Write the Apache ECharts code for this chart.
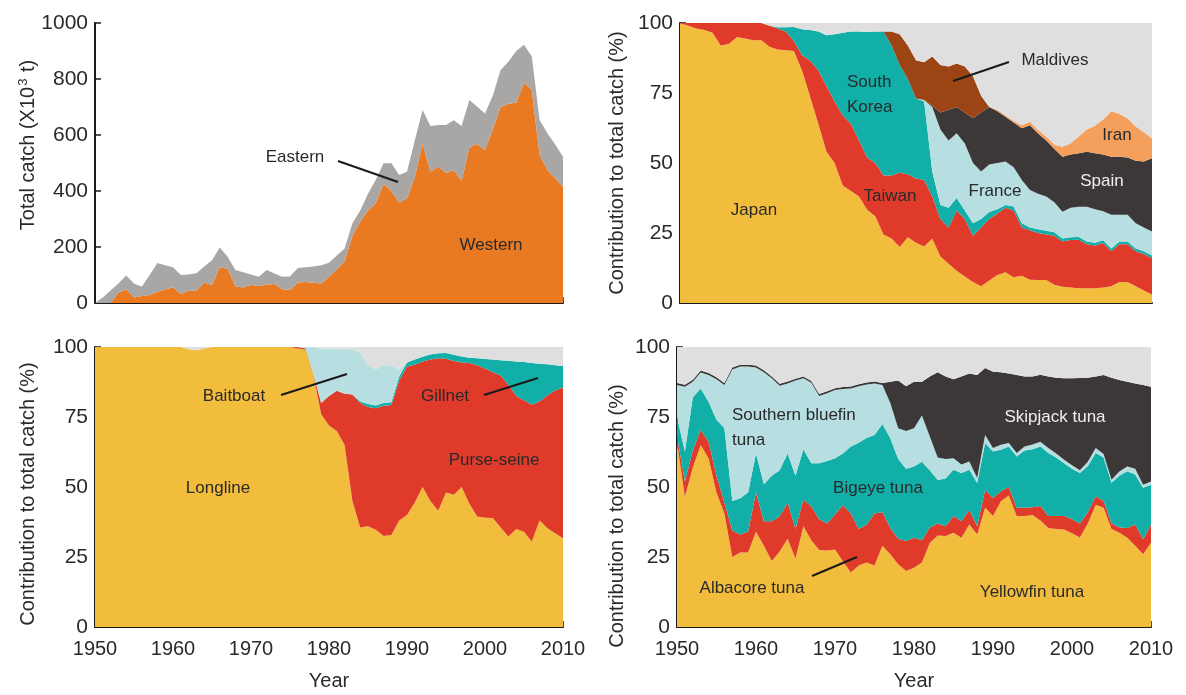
<!DOCTYPE html>
<html><head><meta charset="utf-8">
<script src="https://cdn.jsdelivr.net/npm/echarts@6/dist/echarts.min.js"></script>
<style>html,body{margin:0;padding:0;background:#fff}#c{width:1186px;height:695px}</style>
</head><body><div id="c"></div>
<script>
// ---------- categories / ticks ----------
const yearsFull = []; for (let y = 1950; y <= 2010; y++) yearsFull.push(String(y));
const yearsFlag = []; for (let y = 1950; y <= 2008; y++) yearsFlag.push(String(y));
const yearTicks = ['1950', '1960', '1970', '1980', '1990', '2000', '2010'];
const catchTicks = [0, 200, 400, 600, 800, 1000];
const pctTicks = [0, 25, 50, 75, 100];

// ---------- Panel A: total catch (x10^3 t), 1950-2010 ----------
const western = [0,0,0,37,49,20,25,29,40,48, 56,32,44,44,73,64,128,122,60,55, 64,62,65,68,49,47,73,75,72,70,
  94,120,148,240,290,330,356,425,400,358, 374,450,570,469,487,465,474,436,555,568,
  546,620,700,712,715,787,760,529,475,445, 415];
const eastern = [0,20,45,33,49,50,33,71,103,87, 72,68,58,62,57,89,70,43,58,55, 38,32,53,37,45,48,52,53,58,65,
  50,50,47,45,40,60,84,74,99,99, 95,130,119,163,149,171,179,196,170,133,
  131,120,132,150,185,135,120,125,131,121, 107];

// ---------- Panel B: share by flag (%), 1950-2008 ----------
const japan = [100,99,98,97.5,96.5,92,92.5,95,94.5,93.8, 93.8,91.5,90.5,90.3,90,83,73.6,64,54,50,
  42,40,38,33.3,31,24.5,23,20,23.5,21.5, 20.2,23,16.6,14,11.5,9.5,7.5,6,8,10,
  11,9.2,9.7,8.3,8.2,8.2,6.5,5.8,5.5,5.3, 5.3,5.3,5.5,6,7.5,7.5,6,4.5,3];
const taiwan = [0,1,2,2.5,3.5,8,7.5,5,5.5,6.2, 6.2,7.5,7.5,6.7,3.5,5.5,12.9,19,23.5,22,
  25,24,20,18.7,19,21,22.5,26.5,22.5,23, 23.7,15,13.4,13,21.5,20.5,16.5,21,22,22,
  23,23.8,17.3,17.7,16.8,16.3,17.5,16.2,17,17.3, 15.7,15.2,15.9,12.5,13.5,13.5,12.5,13,13];
const southKorea = [0,0,0,0,0,0,0,0,0,0, 0,0,0.5,1.5,5.1,9.3,11,14,18.1,24,
  29.5,33,39,44.8,47,51.5,46.5,38.5,34,28.5, 28.1,9,5,7,4.5,3,4.5,3,2.5,1.5,
  1,1.5,1.5,1,1.3,1.3,1.3,1,1,1, 1,1,1,1,1,1,1,1,1];
const france = [0,0,0,0,0,0,0,0,0,0, 0,0,0,0,0,0,0,0,0,0, 0,0,0,0,0,0,0,0,0,0,
  0.5,23,27,24,23.1,24,21.5,17,17,16.5, 15.5,14,15.4,13.4,12.7,12.2,10.7,9.6,10.5,10.8,
  12.4,12,10.4,12,9.5,9.5,9,8.5,8.5];
const spain = [0,0,0,0,0,0,0,0,0,0, 0,0,0,0,0,0,0,0,0,0, 0,0,0,0,0,0,0,0,0,0,
  0,0.5,6,11,9.4,11,16,21,20.5,18.5, 16,16,18.5,23.1,21.5,20,19,19.6,19,19.1,
  19.6,20,20.2,20.7,20.7,20.5,22.3,23.5,26.2];
const maldives = [0,0,0,0,0,0,0,0,0,0, 0,0,0,0,0,0,0,0,0,0, 0,0,0,0,0,0,5,11,12,13.7,
  13.5,17.5,17,15.5,15.5,16.5,15,6,0,0, 0,0,0,0,0,0,0,0,0,0, 0,0,0,0,0,0,0,0,0];
const iran = [0,0,0,0,0,0,0,0,0,0, 0,0,0,0,0,0,0,0,0,0, 0,0,0,0,0,0,0,0,0,0,
  0,0,0,0,0,0,0,0,0,0.5, 0.5,0.5,1.1,1.2,1.3,1.5,1.5,3.6,4,6,
  8,9.8,12.5,16.3,15.3,14,12.2,10.5,7.1];
const otherFlags = [0,0,0,0,0,0,0,0,0,0, 0,1,1.5,1.5,1.4,2.2,2.5,3,4.4,4,
  3.5,3,3,3.2,3,3,3,4,8,13.3, 14,12,15,15.5,14.5,15.5,19,26,30,31,
  33,35,36.5,35.3,38.2,40.5,43.5,44.2,43,40.5, 38,36.7,34.5,31.5,32.5,34,37,39,41.2];

// ---------- Panel C: share by gear (%), 1950-2010 ----------
const longline = [100,100,100,100,100,100,100,100,100,100, 100,100,99.2,98.8,99.5,100,100,100,100,100,
  100,100,100,100,100,100,99.5,99,90,76, 72,70,65,45,35.5,36,34.7,32.5,32.9,38,
  40,44.5,50,45,41.5,48,47.2,50,44,39.5, 39,38.9,35.5,32.3,35,34,30.5,38,35.3,33.5, 31.7];
const purseSeine = [0,0,0,0,0,0,0,0,0,0, 0,0,0,0,0,0,0,0,0,0, 0,0,0,0,0,0,0.5,0.5,0.3,4,
  10.5,14.4,18.3,38,44.5,42.6,43.4,46.5,46.4,50, 53,49.2,44.8,50.5,54.5,47.8,47.8,44.5,50.3,54,
  53.3,52.1,54.3,54.2,47.5,47,48.9,42.5,47.5,51, 53.8];
const gillnet = [0,0,0,0,0,0,0,0,0,0, 0,0,0,0,0,0,0,0,0,0, 0,0,0,0,0,0,0,0,0,0,
  0,0,0,0,0.5,1,1,1,1,1.5, 1.5,1.8,1.7,1.8,1.8,2.1,2.2,2.1,1.9,2.5,
  3.4,4.5,5.5,8.6,12.3,13.6,14.9,13.5,11,9, 7.7];
const baitboat = [0,0,0,0,0,0,0,0,0,0, 0,0,0,0,0,0,0,0,0,0, 0,0,0,0,0,0,0,0.5,9.7,19.5,
  17,15.1,16.2,16,17.5,13.9,12.9,13.5,13.2,2.5, 0,0,0,0,0,0,0,0,0,0, 0,0,0,0,0,0,0,0,0,0, 0];
const otherGears = [0,0,0,0,0,0,0,0,0,0, 0,0,0.8,1.2,0.5,0,0,0,0,0, 0,0,0,0,0,0,0,0,0,0.5,
  0.5,0.5,0.5,1,2,6.5,8,6.5,6.5,8, 5.5,4.5,3.5,2.7,2.2,2.1,2.8,3.4,3.8,4,
  4.3,4.5,4.7,4.9,5.2,5.4,5.7,6,6.2,6.5, 6.8];

// ---------- Panel D: share by species (%), 1950-2010 ----------
const yellowfin = [66,46.5,57,65,60.3,48,40.5,25,26.6,26.6, 34,29,23.6,27,31.5,24.5,36,31,27.5,27.3,
  27.7,23.5,19.5,22,23,22,29,26,22.4,20, 21.2,23,30,32.7,32.5,33.7,31.9,36.6,33,42.6,
  39.6,44.9,47,39.6,39.6,40,38,35.4,35,34.8, 33.5,32,37,43.7,42.6,35,33.7,31.9,29,26, 30.1];
const albacore = [2,5.5,6,5.4,5.9,6,4,9.5,6.4,7.4, 14,8.8,14.2,12.5,13,10.5,9.5,12,11,9.7,
  12.5,20,21,13,13.5,18.5,12,9.4,9.1,10.7, 10.7,8,5.5,4.3,3.5,5.9,5.9,5.3,3,6.4,
  6.5,3.6,3,3,3,2.8,5.2,4.2,4.6,4.8, 5,5,4,3,2.4,2,1.8,3.5,7.6,5.3, 6.5];
const bigeye = [7,10.7,19,14.8,14.2,20,26.5,10.5,13,14, 14,13.2,16.2,16.5,17.5,19,18,15.5,20,22.3,
  20.1,18.5,24,30.8,31,28.1,31.5,32,28.5,25.8, 25.4,28,20.5,15.5,17,16.6,17.2,14.3,15.4,16.7,
  16.6,14.8,14.5,18.3,20.4,20.7,21.3,22.5,20.9,18.9, 18,18,16.5,15.4,15.5,14.5,18.5,20.2,17.9,18.4, 14.2];
const southernBluefin = [11.4,23.1,5.6,5.7,9.6,14.5,15.4,47,47,45, 30.7,40,34.8,30.2,25,34,25.3,28.7,24,24.2,
  24.3,23,20.7,20.2,19.1,18.4,13.9,12.6,11,13.5, 13.7,16.5,12,8,7,4.1,3,2.9,1.8,2.9,
  1.2,1.8,1.2,1.2,1.5,1.7,1.7,1.8,1.5,1.2, 1.3,1,1.5,1.8,1.3,1.1,1.5,1.7,2,1.1, 1.2];
const skipjack = [0.7,0.7,0.7,0.7,0.7,0.7,0.7,0.7,0.7,0.7, 0.7,0.7,0.7,0.7,0.7,0.7,0.7,0.7,0.7,0.7,
  0.7,0.7,0.7,0.7,0.7,0.7,0.7,7.6,17,16, 16.6,12.1,21.5,30.5,29.5,28.2,31.5,31.4,36.8,23.9,
  27.3,25.9,24.8,27.9,25,24.3,23.9,25.6,27,29.1, 31,32.9,30,25.6,28.2,36.4,32.7,30.3,30.5,35.6, 33.8];
const otherSpecies = [12.9,13.5,11.7,8.4,9.3,10.8,12.9,7.3,6.3,6.3, 6.6,8.3,10.5,13.1,12.3,11.3,10.5,12.1,16.8,15.8,
  14.7,14.3,14.1,13.3,12.7,12.3,12.9,12.4,12,14, 12.4,12.4,10.5,9,10.5,11.5,10.5,9.5,10,7.5,
  8.8,9,9.5,10,10.5,10.5,9.9,10.5,11,11.2, 11.2,11.1,11,10.5,10,11,11.8,12.4,13,13.6, 14.2];

// ---------- styling ----------
const C = {
  western:'#EA7A22', eastern:'#A9A6A6', yellow:'#F2BC3D', red:'#E03A2B', teal:'#12AEA8',
  lblue:'#B7DEE0', dark:'#3D3838', brown:'#9C4414', iran:'#F4A05C', other:'#DFDFDF'
};
const FONT = 'Liberation Sans, Arial, Helvetica, sans-serif';
const TXT = '#2a2a2a';

const grids = [
  {left:95, top:23, width:468, height:280},
  {left:680, top:23, width:472, height:280},
  {left:95, top:347, width:468, height:280},
  {left:677, top:347, width:474, height:280}
];

const isDecade = (idx, val) => Number(val) % 10 === 0;

function xAx(i, cats, showLabels) {
  return {
    type:'category', gridIndex:i, data:cats, boundaryGap:false,
    axisLine:{show:true, onZero:false, lineStyle:{color:'#1a1a1a', width:2}},
    axisTick:{show:true, inside:true, length:6, interval:isDecade, lineStyle:{color:'#1a1a1a', width:1.5}},
    axisLabel:{show:showLabels, interval:isDecade, fontSize:20, color:TXT, fontFamily:FONT, margin:12,
      formatter: v => yearTicks.indexOf(v) >= 0 ? v : ''},
    splitLine:{show:false},
    name: showLabels ? 'Year' : '', nameLocation:'middle', nameGap:44,
    nameTextStyle:{fontSize:20, color:TXT, fontFamily:FONT}
  };
}
function yAx(i, max, interval, ticks) {
  return {
    type:'value', gridIndex:i, min:0, max:max, interval:interval,
    axisLine:{show:true, lineStyle:{color:'#1a1a1a', width:2}},
    axisTick:{show:true, inside:true, length:6, lineStyle:{color:'#1a1a1a', width:1.5}},
    axisLabel:{fontSize:21, color:TXT, fontFamily:FONT, margin:7,
      formatter: v => ticks.indexOf(v) >= 0 ? String(v) : ''},
    splitLine:{show:false}
  };
}
function area(i, name, vals, color) {
  return {
    type:'line', name, xAxisIndex:i, yAxisIndex:i, stack:'s' + i,
    data: vals,
    symbol:'none', showSymbol:false, silent:true, z:2,
    lineStyle:{width:0}, areaStyle:{color, opacity:1}
  };
}
function label(text, x, y, opts) {
  return {type:'text', x, y, silent:true, z:100,
    style:Object.assign({text, fill:TXT, font:'17px ' + FONT, align:'center', verticalAlign:'middle'}, (opts||{}))};
}
function lead(x1, y1, x2, y2) {
  return {type:'line', silent:true, z:100, shape:{x1, y1, x2, y2}, style:{stroke:'#1a1a1a', lineWidth:2}};
}
function ytitle(text, x, y, rich) {
  return {type:'text', x, y, rotation:Math.PI/2, silent:true, z:100,
    style:{text, fill:TXT, font:'20px ' + FONT, align:'center', verticalAlign:'middle', rich:rich}};
}

const option = {
  animation:false,
  backgroundColor:'#ffffff',
  grid: grids,
  xAxis:[xAx(0, yearsFull, false), xAx(1, yearsFlag, false), xAx(2, yearsFull, true), xAx(3, yearsFull, true)],
  yAxis:[yAx(0, 1000, 200, catchTicks), yAx(1, 100, 25, pctTicks), yAx(2, 100, 25, pctTicks), yAx(3, 100, 25, pctTicks)],
  series:[
    area(0, 'Western', western, C.western),
    area(0, 'Eastern', eastern, C.eastern),

    area(1, 'Japan', japan, C.yellow),
    area(1, 'Taiwan', taiwan, C.red),
    area(1, 'South Korea', southKorea, C.teal),
    area(1, 'France', france, C.lblue),
    area(1, 'Spain', spain, C.dark),
    area(1, 'Maldives', maldives, C.brown),
    area(1, 'Iran', iran, C.iran),
    area(1, 'Others', otherFlags, C.other),

    area(2, 'Longline', longline, C.yellow),
    area(2, 'Purse-seine', purseSeine, C.red),
    area(2, 'Gillnet', gillnet, C.teal),
    area(2, 'Baitboat', baitboat, C.lblue),
    area(2, 'Others', otherGears, C.other),

    area(3, 'Yellowfin tuna', yellowfin, C.yellow),
    area(3, 'Albacore tuna', albacore, C.red),
    area(3, 'Bigeye tuna', bigeye, C.teal),
    area(3, 'Southern bluefin tuna', southernBluefin, C.lblue),
    area(3, 'Skipjack tuna', skipjack, C.dark),
    area(3, 'Others', otherSpecies, C.other)
  ],
  graphic:[
    ytitle('{a|Total catch (X10}{s|3}{a| t)}', 28, 145, {
      a:{font:'20px ' + FONT, fill:TXT, lineHeight:22},
      s:{font:'13px ' + FONT, fill:TXT, verticalAlign:'top', lineHeight:22, padding:[0,1,10,1]}
    }),
    ytitle('Contribution to total catch (%)', 617, 163),
    ytitle('Contribution to total catch (%)', 28, 494),
    ytitle('Contribution to total catch (%)', 617, 516),

    label('Eastern', 295, 157), lead(338, 161, 398, 182),
    label('Western', 491, 245),

    label('South', 847, 82, {align:'left'}), label('Korea', 847, 107, {align:'left'}),
    label('Maldives', 1055, 60), lead(1009, 62, 953, 81),
    label('Iran', 1117, 135),
    label('Spain', 1102, 181, {fill:'#eeeeee'}),
    label('France', 995, 191),
    label('Taiwan', 890, 196),
    label('Japan', 754, 210),

    label('Baitboat', 234, 396), lead(281, 395, 347, 374),
    label('Longline', 218, 488),
    label('Gillnet', 445, 396), lead(484, 395, 538, 378),
    label('Purse-seine', 494, 460),

    label('Southern bluefin', 732, 415, {align:'left'}),
    label('tuna', 732, 440, {align:'left'}),
    label('Bigeye tuna', 878, 488),
    label('Skipjack tuna', 1055, 417, {fill:'#eeeeee'}),
    label('Albacore tuna', 752, 588),
    lead(812, 576, 857, 557),
    label('Yellowfin tuna', 1032, 592)
  ]
};
const chart = echarts.init(document.getElementById('c'), null, {renderer:'canvas'});
chart.setOption(option);
</script>
</body></html>
